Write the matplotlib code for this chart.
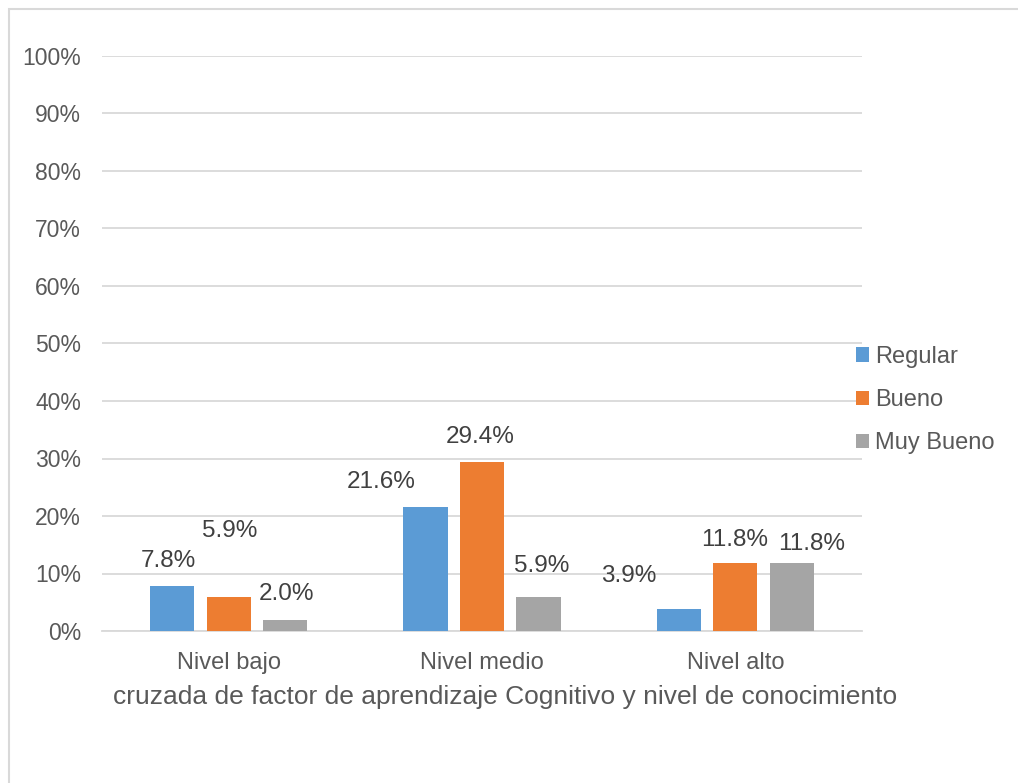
import matplotlib.pyplot as plt, numpy as np
from matplotlib.patches import Rectangle

categories = ["Nivel bajo", "Nivel medio", "Nivel alto"]
series_names = ["Regular", "Bueno", "Muy Bueno"]
regular = [7.8, 21.6, 3.9]
bueno = [5.9, 29.4, 11.8]
muy_bueno = [2.0, 5.9, 11.8]
y_ticks = [0, 10, 20, 30, 40, 50, 60, 70, 80, 90, 100]
x_title = "cruzada de factor de aprendizaje Cognitivo y nivel de conocimiento"

colors = ["#5B9BD5", "#ED7D31", "#A5A5A5"]
# label offsets (pixels) from top centre of each bar, as placed in the original
label_dx = [[-4, -44, -50], [1, -2, -1], [1, 3, 20]]
label_dy = [[25, 25, 33], [66, 25, 23], [25, 31, 19]]

plt.rcParams['font.family'] = ['Liberation Sans', 'DejaVu Sans']
text_col = "#595959"
grid_col = "#d9d9d9"

fig = plt.figure(figsize=(10.18, 7.83), dpi=100)
ax = fig.add_axes([102 / 1018, 1 - 631 / 783, 760 / 1018, 575 / 783])

x = np.arange(len(categories))
step = 0.223
width = 0.174
all_series = [regular, bueno, muy_bueno]
for i, (name, vals) in enumerate(zip(series_names, all_series)):
    pos = x + (i - 1) * step
    ax.bar(pos, vals, width, color=colors[i], label=name, zorder=3)
    for j, v in enumerate(vals):
        ax.annotate(f"{v:.1f}%", (pos[j], v), xytext=(label_dx[i][j], label_dy[i][j]),
                    textcoords="offset pixels", ha="center", va="center",
                    fontsize=17.5, color="#404040")

ax.set_xlim(-0.5, 2.5)
ax.set_ylim(0, 100)
ax.set_yticks(y_ticks)
ax.set_yticklabels([f"{t}%" for t in y_ticks])
ax.set_xticks(x)
ax.set_xticklabels(categories)
ax.tick_params(axis="y", length=0, labelsize=16.5, labelcolor=text_col, pad=15)
ax.tick_params(axis="x", length=0, labelsize=17, labelcolor=text_col, pad=15)
ax.grid(axis="y", color=grid_col, linewidth=1.3, zorder=0)
for s in ["top", "right", "left"]:
    ax.spines[s].set_visible(False)
ax.spines["bottom"].set_color(grid_col)
ax.spines["bottom"].set_linewidth(1.3)
ax.set_xlabel(x_title, fontsize=19, color=text_col)
ax.xaxis.set_label_coords((505 - 102) / 760, -(697 - 631) / 575)
ax.xaxis.label.set_va("center")

fig.legend(loc="upper left", bbox_to_anchor=(844 / 1018, 1 - 334 / 783), frameon=False,
           fontsize=17, labelcolor=text_col, handlelength=0.55, handleheight=0.55,
           handletextpad=0.25, labelspacing=0.9, borderpad=0)

fig.patches.append(Rectangle((9 / 1018, -0.01), 1.0, 1 - 9 / 783 + 0.01, transform=fig.transFigure,
                             fill=False, edgecolor=grid_col, linewidth=1.5))

fig.savefig("out.png", dpi=100)
